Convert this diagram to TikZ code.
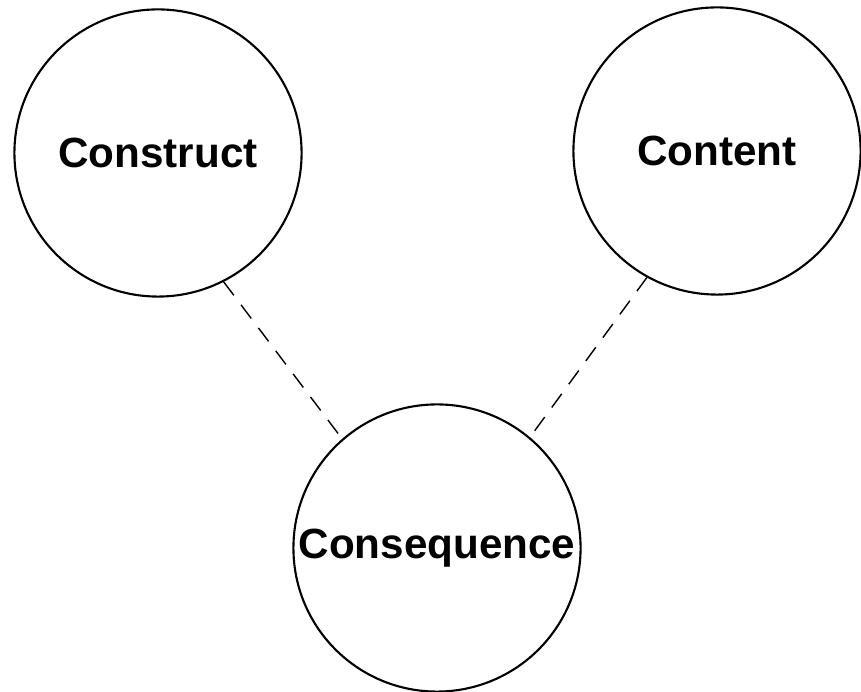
\documentclass[tikz,border=0pt]{standalone}
\usepackage{fontspec}
\setmainfont{Liberation Sans}

\begin{document}
\begin{tikzpicture}[x=0.01cm, y=-0.01cm,
      every node/.append style={font=\bfseries\fontsize{12}{14}\selectfont}]
    \tikzstyle{idea} = [draw, circle, line width=0.6pt, minimum size=2.87cm, inner sep=0pt]
    \tikzstyle{link} = [dashed, dash pattern=on 4.8pt off 3.4pt, line width=0.4pt]
    \useasboundingbox (0,0) rectangle (861,692);
    \node (Construct) [idea] at (158,153) {Construct};
    \node (Content) [idea] at (717,151) {Content};
    \node (Consequence) [idea] at (437,548) {Consequence};
    \draw[link] (Construct.-63) to (Consequence.131);
    \draw[link] (Content.-119) to (Consequence.50);
  \end{tikzpicture}
\end{document}
